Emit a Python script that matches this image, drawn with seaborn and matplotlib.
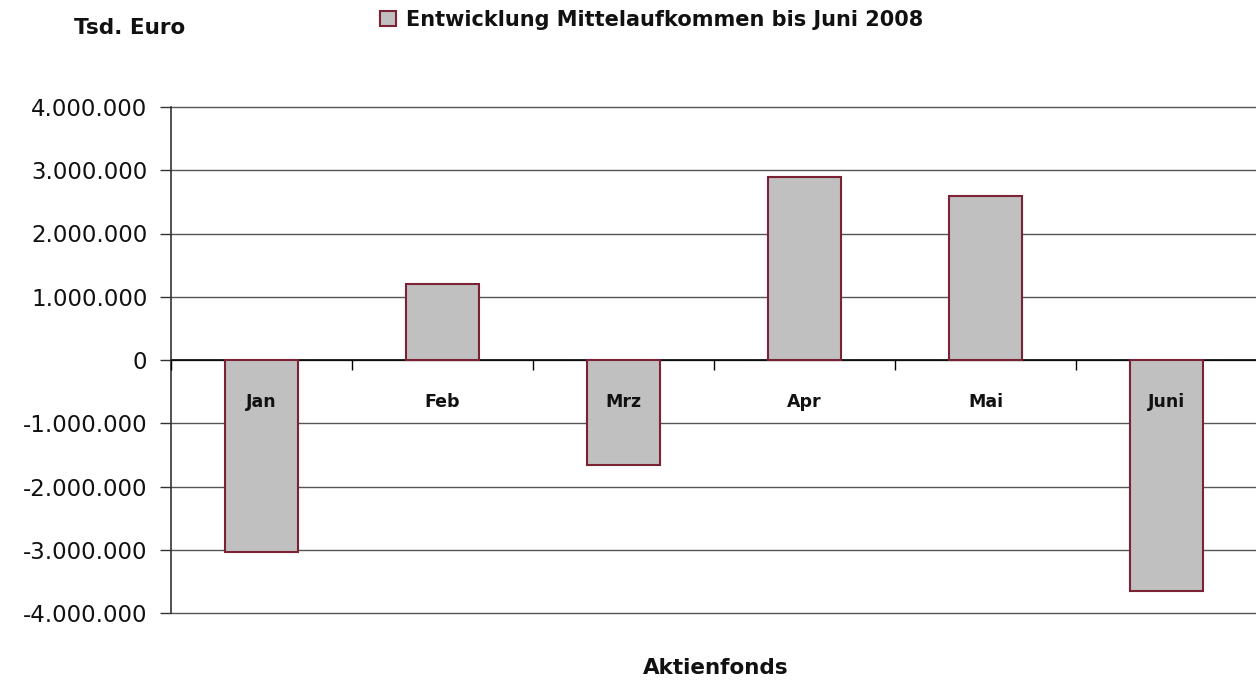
import numpy as np
import pandas as pd
import matplotlib
matplotlib.use("Agg")
import matplotlib.pyplot as plt
import seaborn as sns
from matplotlib.ticker import FuncFormatter, FixedLocator

# Mittelaufkommen Aktienfonds, Tsd. Euro
months = ["Jan", "Feb", "Mrz", "Apr", "Mai", "Juni"]
values = [-3040000, 1200000, -1660000, 2890000, 2600000, -3660000]
series_name = "Entwicklung Mittelaufkommen bis Juni 2008"

sns.set_style("white")
plt.rcParams["font.family"] = ["DejaVu Sans"]

df = pd.DataFrame({"Monat": months, "Wert": values})

fig = plt.figure(figsize=(12.56, 6.84), dpi=100)
ax = fig.add_axes([171 / 1256, 71 / 684, 1086 / 1256, 506 / 684])

sns.barplot(data=df, x="Monat", y="Wert", color="#c0c0c0", saturation=1,
            width=0.4, edgecolor="#7b2335", linewidth=1.5, label=series_name, ax=ax)

ax.set_ylim(-4000000, 4000000)
ax.set_xlim(-0.5, len(months) - 0.5)
ax.set_yticks(np.arange(-4000000, 4000001, 1000000))
ax.yaxis.set_major_formatter(FuncFormatter(lambda v, p: f"{int(v):,}".replace(",", ".")))
ax.tick_params(axis="y", labelsize=16.5, length=8, width=1, color="#333",
               labelcolor="#111", direction="out", pad=9, left=True)
ax.yaxis.grid(True, color="#555", linewidth=1)
for gl in ax.yaxis.get_gridlines():
    gl.set_clip_on(False)
ax.set_axisbelow(True)

# category axis on the zero line, labels drawn over the bars
for s in ["top", "right"]:
    ax.spines[s].set_visible(False)
ax.spines["bottom"].set_position(("data", 0))
ax.spines["bottom"].set_color("black")
ax.spines["bottom"].set_linewidth(1.2)
ax.spines["bottom"].set_zorder(0.6)
ax.spines["left"].set_color("#333")
ax.spines["left"].set_linewidth(1.2)
ax.xaxis.set_minor_locator(FixedLocator(np.arange(-0.5, len(months), 1.0)))
ax.tick_params(axis="x", which="minor", length=7, width=1, color="black", direction="out", bottom=True)
ax.tick_params(axis="x", which="major", length=0, pad=24, labelsize=12.5, labelcolor="#111")
for t in ax.get_xticklabels():
    t.set_fontweight("bold")
ax.xaxis.set_zorder(5)

ax.set_xlabel("")
ax.set_ylabel("")
fig.text(716 / 1256, 1 - 668 / 684, "Aktienfonds", ha="center", va="center",
         fontsize=15.5, fontweight="bold", color="#111")
fig.text(130 / 1256, 1 - 28 / 684, "Tsd. Euro", ha="center", va="center",
         fontsize=15.5, fontweight="bold", color="#111")

leg = ax.legend(loc="center left", bbox_to_anchor=(380 / 1256, 1 - 20 / 684), bbox_transform=fig.transFigure,
                frameon=False, borderpad=0, borderaxespad=0, handlelength=0.75, handleheight=0.75,
                handletextpad=0.5, prop={"size": 15, "weight": "bold"})
for txt in leg.get_texts():
    txt.set_color("#111")

fig.savefig("out.png", dpi=100)
